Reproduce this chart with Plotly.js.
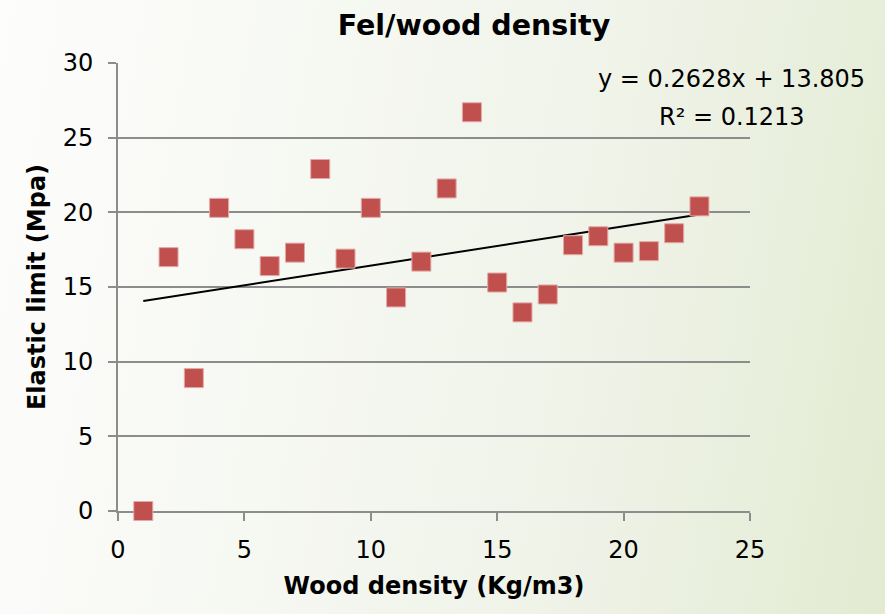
<!DOCTYPE html>
<html>
<head>
<meta charset="utf-8">
<script src="https://cdn.plot.ly/plotly-3.0.1.min.js"></script>
<style>
html,body{margin:0;padding:0;width:885px;height:614px;overflow:hidden;}
body{background:linear-gradient(100deg,#fdfdfc 0%,#f6f8f2 35%,#eef2e6 70%,#e2ebd1 100%);}
#chart{width:885px;height:614px;}
</style>
</head>
<body>
<div id="chart"></div>
<script>
const woodDensity = [1,2,3,4,5,6,7,8,9,10,11,12,13,14,15,16,17,18,19,20,21,22,23];
const elasticLimit = [0,17.0,8.9,20.3,18.2,16.4,17.3,22.9,16.9,20.3,14.3,16.7,21.6,26.7,15.3,13.3,14.5,17.8,18.4,17.3,17.4,18.6,20.4];
const trendSlope = 0.2628;
const trendIntercept = 13.805;
const rSquared = 0.1213;
const xTicks = [0,5,10,15,20,25];
const yTicks = [0,5,10,15,20,25,30];

const xMin = Math.min(...woodDensity), xMax = Math.max(...woodDensity);
const trendX = [xMin, xMax];
const trendY = trendX.map(x => trendSlope * x + trendIntercept);

const wide = "'DejaVu Sans', 'Open Sans', sans-serif";

const traces = [
  {
    x: trendX, y: trendY, mode: 'lines', type: 'scatter',
    line: {color: '#000000', width: 2}, hoverinfo: 'skip', showlegend: false
  },
  {
    x: woodDensity, y: elasticLimit, mode: 'markers', type: 'scatter',
    cliponaxis: false,
    marker: {symbol: 'square', size: 19, color: '#c0504d', line: {color: '#e3a9a7', width: 1}},
    showlegend: false
  }
];

const layout = {
  width: 885, height: 614,
  paper_bgcolor: 'rgba(0,0,0,0)', plot_bgcolor: 'rgba(0,0,0,0)',
  margin: {l: 118, r: 135, t: 63, b: 103},
  font: {family: wide, color: '#000000'},
  title: {
    text: 'Fel/wood density', font: {family: wide, size: 28.5, color: '#000000', weight: 'bold'},
    x: 474/885, xref: 'container', xanchor: 'center', y: 1 - 25/614, yref: 'container', yanchor: 'middle'
  },
  xaxis: {
    range: [0, 25], tickvals: xTicks, ticktext: xTicks.map(String),
    showgrid: false, zeroline: false, showline: true, linecolor: '#8c8c8c', linewidth: 2,
    ticks: 'outside', ticklen: 8, tickwidth: 2, tickcolor: '#8c8c8c',
    ticklabelstandoff: 8,
    tickfont: {family: wide, size: 24, color: '#000000'},
    layer: 'below traces',
    title: {text: 'Wood density (Kg/m3)', font: {family: wide, size: 24, color: '#000000', weight: 'bold'}, standoff: 14}
  },
  yaxis: {
    range: [0, 30], tickvals: yTicks, ticktext: yTicks.map(String),
    showgrid: true, gridcolor: '#8c8c8c', gridwidth: 2, zeroline: false,
    showline: true, linecolor: '#8c8c8c', linewidth: 2,
    ticks: 'outside', ticklen: 8, tickwidth: 2, tickcolor: '#8c8c8c',
    ticklabelstandoff: 10,
    tickfont: {family: wide, size: 24, color: '#000000'},
    layer: 'below traces',
    title: {text: 'Elastic limit (Mpa)', font: {family: wide, size: 24, color: '#000000', weight: 'bold'}, standoff: 10}
  },
  annotations: [
    {
      xref: 'paper', yref: 'paper',
      x: (731 - 118) / 632, y: (511 - 79) / 448,
      xanchor: 'center', yanchor: 'middle', showarrow: false,
      text: 'y = ' + trendSlope + 'x + ' + trendIntercept,
      font: {family: wide, size: 24, color: '#000000'}
    },
    {
      xref: 'paper', yref: 'paper',
      x: (732 - 118) / 632, y: (511 - 117) / 448,
      xanchor: 'center', yanchor: 'middle', showarrow: false,
      text: 'R² = ' + rSquared,
      font: {family: wide, size: 24, color: '#000000'}
    }
  ]
};

Plotly.newPlot('chart', traces, layout, {displayModeBar: false, staticPlot: true});
</script>
</body>
</html>
